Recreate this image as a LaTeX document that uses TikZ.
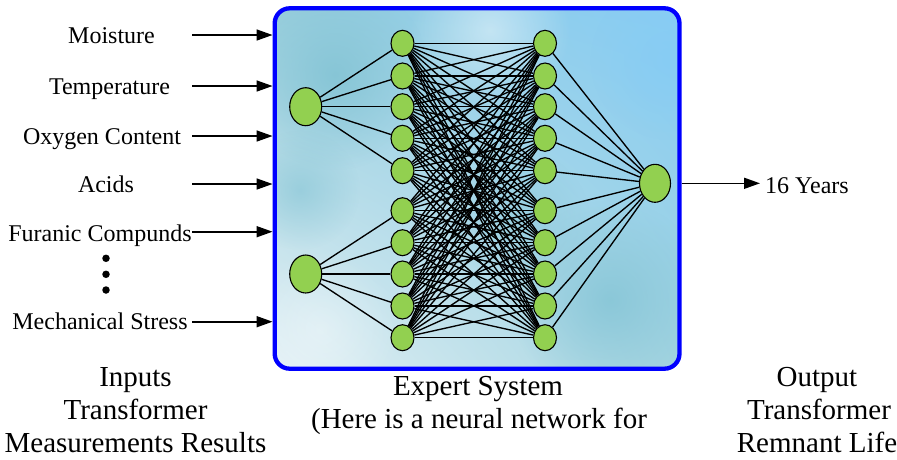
\documentclass[tikz,border=0pt]{standalone}
\usepackage{fontspec}
\setmainfont{Liberation Serif}
\usetikzlibrary{shapes.geometric,arrows.meta,fadings,shadings}

\definecolor{neurongreen}{HTML}{92D050}
\definecolor{framblue}{HTML}{0000FF}
\definecolor{tealshade}{HTML}{84C4D5}
\definecolor{skyshade}{HTML}{86CCF4}
\definecolor{panelUL}{RGB}{152,206,220}
\definecolor{panelUR}{RGB}{136,205,245}
\definecolor{panelLL}{RGB}{226,240,245}
\definecolor{panelLR}{RGB}{163,212,224}

% soft radial fading for the cloudy panel texture
\tikzfading[name=softblob,inner color=transparent!0,outer color=transparent!100]

\begin{document}
\begin{tikzpicture}[x=1pt,y=-1pt,
  neuron/.style={ellipse,draw=black,line width=1.1pt,fill=neurongreen,inner sep=0pt},
  bigneuron/.style={neuron,minimum width=32pt,minimum height=38pt},
  smallneuron/.style={neuron,minimum width=23pt,minimum height=26pt},
  link/.style={line width=1.35pt},
  feed/.style={line width=1.6pt,-{Triangle[length=16pt,width=11pt]}},
  blob/.style={path fading=softblob},
  lbl/.style={font=\fontsize{24}{28}\selectfont,anchor=base,inner sep=0pt},
  caption/.style={font=\fontsize{29}{33}\selectfont,anchor=base,inner sep=0pt},
  dotmark/.style={circle,fill=black,inner sep=0pt,minimum size=7.5pt}]

\useasboundingbox (0,0) rectangle (897,459);

% background of the expert-system panel
\begin{scope}
  \clip[rounded corners=15pt] (274.7,8.3) rectangle (679.5,368.7);
  \shade[upper left=panelUL,upper right=panelUR,
         lower left=panelLL,lower right=panelLR]
        (274.7,8.3) rectangle (679.5,368.7);
  \fill[tealshade,blob,fill opacity=0.9] (335,75) circle (95);
  \fill[tealshade,blob,fill opacity=0.6] (300,190) circle (60);
  \fill[white,blob,fill opacity=0.45] (490,30) circle (80);
  \fill[tealshade,blob,fill opacity=0.8] (610,300) circle (100);
  \fill[tealshade,blob,fill opacity=0.5] (520,220) circle (70);
  \fill[skyshade,blob,fill opacity=0.8] (670,60) circle (80);
  \fill[white,blob,fill opacity=0.35] (320,330) circle (80);
\end{scope}
\node (es) [draw=framblue,line width=4.3pt,rounded corners=15pt,
            minimum width=404.8pt,minimum height=360.4pt,inner sep=0pt]
      at (477.1,188.5) {};

% neurons
\node (i1) [bigneuron] at (305.7,106.7) {};
\node (i2) [bigneuron] at (305.7,274) {};
\foreach \n/\y in {1/43.3,2/76,3/106.7,4/138.3,5/170.7,6/210.7,7/242.7,8/274,9/306,10/337.7}{
  \node (a\n) [smallneuron] at (402.5,\y) {};
  \node (b\n) [smallneuron] at (545,\y) {};
}
\node (o) [bigneuron,minimum width=31pt] at (655,183.3) {};

% connections
\foreach \n in {1,...,5} \draw[link] (i1) -- (a\n);
\foreach \n in {6,...,10} \draw[link] (i2) -- (a\n);
\foreach \m in {1,...,10}{
  \foreach \n in {1,...,10} \draw[link] (a\m) -- (b\n);
}
\foreach \n in {1,...,10} \draw[link] (b\n) -- (o);

% inputs
\node (l1) [lbl] at (111.5,43.3) {Moisture};
\node (l2) [lbl] at (109.5,94) {Temperature};
\node (l3) [lbl] at (102,144) {Oxygen Content};
\node (l4) [lbl] at (106,192.7) {Acids};
\node (l5) [lbl] at (100,241) {Furanic Compunds};
\node (l6) [lbl] at (100,329.3) {Mechanical Stress};
\foreach \k/\y in {1/35,2/86,3/136,4/184,5/231.7,6/321.7}{
  \coordinate (s\k) at (192,\y);
  \draw[feed] (s\k) -- (s\k -| es.west);
}
\node (d1) [dotmark] at (106,258.3) {};
\node (d2) [dotmark] at (106,274.3) {};
\node (d3) [dotmark] at (106,290) {};

% output
\coordinate (oy) at (700,183.3);
\coordinate (oend) at (760,183.3);
\draw[feed] (oy -| es.east) -- (oend);
\node (res) [lbl,anchor=base west] at (765,193.3) {16 Years};

% captions
\node (c1) [caption] at (135.5,386.7) {Inputs};
\node (c2) [caption] at (135.5,419.3) {Transformer};
\node (c3) [caption] at (135.5,452.7) {Measurements Results};
\node (m1) [caption] at (478,395) {Expert System};
\node (m2) [caption] at (479,428) {(Here is a neural network for};
\node (r1) [caption] at (817,386.7) {Output};
\node (r2) [caption] at (819,419.3) {Transformer};
\node (r3) [caption] at (817,452.7) {Remnant Life};
\end{tikzpicture}
\end{document}
